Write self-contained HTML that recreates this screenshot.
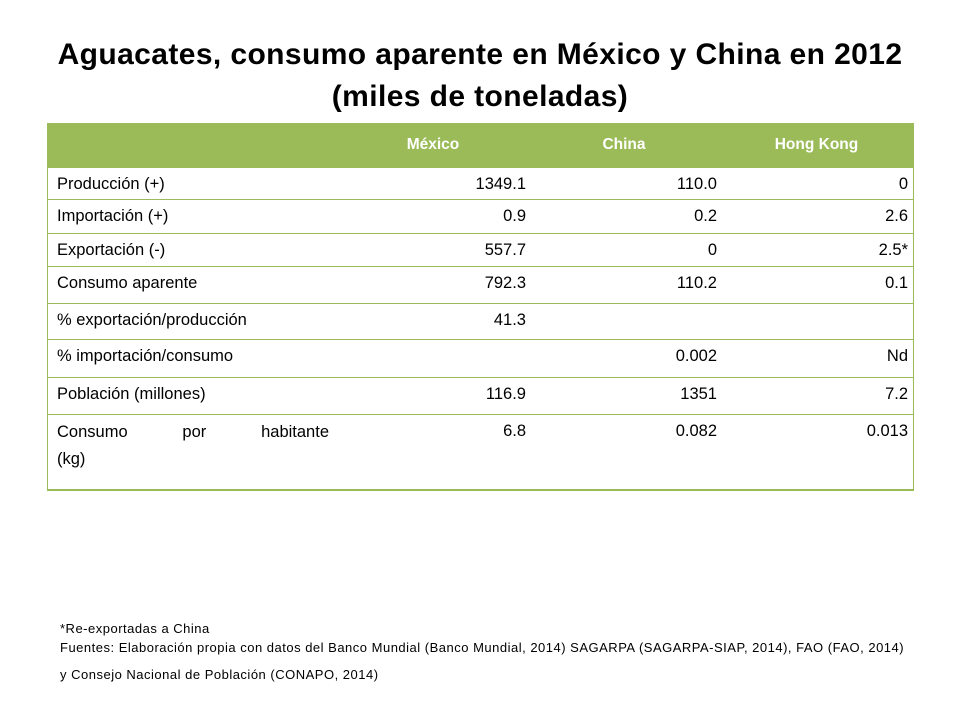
<!DOCTYPE html>
<html><head><meta charset="utf-8"><style>
body{margin:0;width:960px;height:720px;background:#fff;font-family:"Liberation Sans",sans-serif;position:relative;overflow:hidden}
.t{position:absolute;left:0;width:960px;text-align:center;font-weight:bold;font-size:30px;letter-spacing:0.4px;color:#000}
.tbl{position:absolute;left:47px;top:123px;width:865px;border-left:1px solid #9bbb59;border-right:1px solid #9bbb59;border-bottom:2px solid #9bbb59}
.row{position:relative;border-top:1px solid #9bbb59;box-sizing:border-box}
.hdr{background:#9bbb59;color:#fff;font-weight:bold;font-size:15px;height:44px;border-top:none}
.c{position:absolute;top:0;font-size:16.5px;color:#000;white-space:nowrap}
.hdr .c{color:#fff;font-size:15.5px;text-align:center;top:13px}
.note{position:absolute;left:60px;font-size:13px;letter-spacing:0.5px;color:#000;white-space:nowrap}
</style></head><body>
<div class="t" style="top:38px">Aguacates, consumo aparente en México y China en 2012</div>
<div class="t" style="top:80px">(miles de toneladas)</div>
<div class="tbl" id="tbl"></div>
<div class="note" style="top:621px">*Re-exportadas a China</div>
<div class="note" style="top:640px">Fuentes: Elaboración propia con datos del Banco Mundial (Banco Mundial, 2014) SAGARPA (SAGARPA-SIAP, 2014), FAO (FAO, 2014)</div>
<div class="note" style="top:667px">y Consejo Nacional de Población (CONAPO, 2014)</div>
<script>
const headers=["México","China","Hong Kong"];
const labels=["Producción (+)","Importación (+)","Exportación (-)","Consumo aparente","% exportación/producción","% importación/consumo","Población (millones)","Consumo por habitante"];
const mexico=["1349.1","0.9","557.7","792.3","41.3","","116.9","6.8"];
const china=["110.0","0.2","0","110.2","","0.002","1351","0.082"];
const hk=["0","2.6","2.5*","0.1","","Nd","7.2","0.013"];
const heights=[32,34,33,37,36,38,37,75];
const tbl=document.getElementById('tbl');
const h=document.createElement('div');h.className='row hdr';


const hx=[[290,190],[480,192],[672,193]];
headers.forEach((t,i)=>{const d=document.createElement('div');d.className='c';d.textContent=t;
d.style.left=hx[i][0]+'px';d.style.width=hx[i][1]+'px';


h.appendChild(d);});
tbl.appendChild(h);
labels.forEach((l,i)=>{const r=document.createElement('div');r.className='row';r.style.height=heights[i]+'px';


const a=document.createElement('div');a.className='c';a.style.left='9px';a.style.top='7px';


if(i===7){a.innerHTML='<span style="display:inline-block;width:272px;text-align:justify;text-align-last:justify">Consumo por habitante</span><br><span style="line-height:34px">(kg)</span>';a.style.lineHeight='20px';}
else a.textContent=l;
r.appendChild(a);
[[mexico,290],[china,481],[hk,672]].forEach(([arr,x])=>{const d=document.createElement('div');d.className='c';
d.style.left=x+'px';d.style.width='188px';d.style.textAlign='right';d.style.top='7px';d.textContent=arr[i];


r.appendChild(d);});
tbl.appendChild(r);});
</script>
</body></html>
